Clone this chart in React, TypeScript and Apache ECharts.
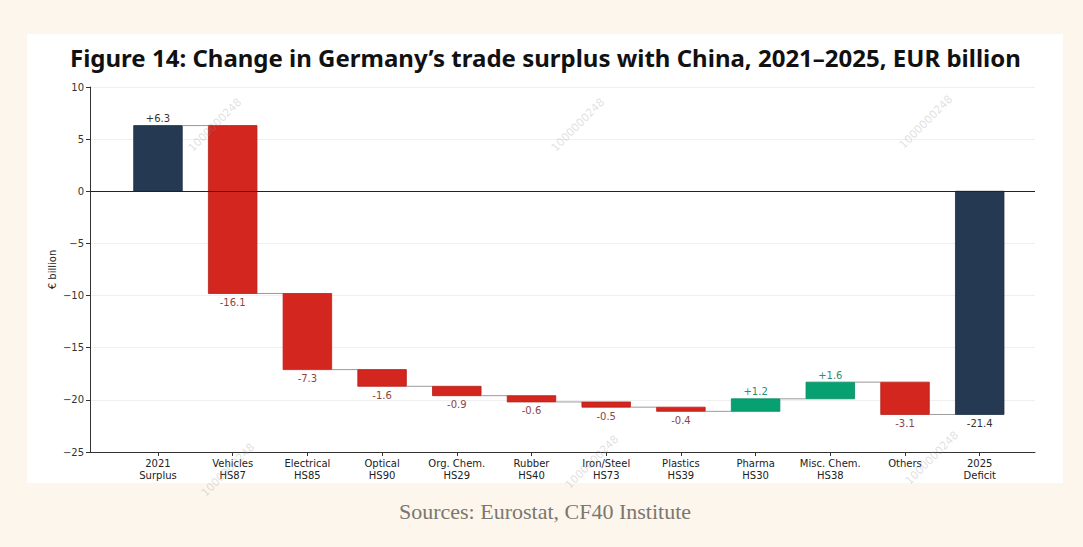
import React, { useEffect, useRef } from "react";
import * as echarts from "echarts";

const categories = [
  "2021\nSurplus",
  "Vehicles\nHS87",
  "Electrical\nHS85",
  "Optical\nHS90",
  "Org. Chem.\nHS29",
  "Rubber\nHS40",
  "Iron/Steel\nHS73",
  "Plastics\nHS39",
  "Pharma\nHS30",
  "Misc. Chem.\nHS38",
  "Others",
  "2025\nDeficit",
];
const changes = [6.3, -16.1, -7.3, -1.6, -0.9, -0.6, -0.5, -0.4, 1.2, 1.6, -3.1, -21.4];
const isTotal = [1, 0, 0, 0, 0, 0, 0, 0, 0, 0, 0, 1];
const yTicks = [-25, -20, -15, -10, -5, 0, 5, 10];

const TITLE = "Figure 14: Change in Germany\u2019s trade surplus with China, 2021\u20132025, EUR billion";
const SOURCE = "Sources: Eurostat, CF40 Institute";
const WATERMARK = "1000000248";

const NAVY = "#253a52";
const RED = "#d2261e";
const GREEN = "#07a071";

function buildRows() {
  const rows: number[][] = [];
  let cum = 0;
  changes.forEach((v, i) => {
    if (isTotal[i]) {
      rows.push([i, 0, v, 1, v]);
      cum = v;
    } else {
      rows.push([i, cum, cum + v, 0, v]);
      cum = cum + v;
    }
  });
  return rows;
}

const HALF = 0.325;

export default function App() {
  const ref = useRef<HTMLDivElement>(null);
  useEffect(() => {
    document.body.style.margin = "0";
    const chart = echarts.init(ref.current as HTMLDivElement, null, { renderer: "svg" });
    const rows = buildRows();
    const n = rows.length;
    const wm = [
      [215, 125],
      [578, 125],
      [926, 122],
      [228, 470],
      [592, 462],
      [932, 458],
    ];
    const option: any = {
      animation: false,
      backgroundColor: "#fdf6ec",
      title: {
        text: TITLE,
        left: 65,
        top: 40,
        textStyle: {
          fontFamily: "Noto Sans",
          fontWeight: "bold",
          fontSize: 24,
          color: "#111",
        },
      },
      graphic: [
        {
          type: "rect",
          z: -10,
          shape: { x: 27, y: 34, width: 1036, height: 449 },
          style: { fill: "#ffffff" },
          silent: true,
        },
        {
          type: "text",
          x: 545,
          y: 511,
          style: {
            text: SOURCE,
            fontFamily: "Liberation Serif",
            fontSize: 22,
            fill: "#7b7770",
            textAlign: "center",
            textVerticalAlign: "middle",
          },
          silent: true,
        },
        ...wm.map(([x, y]) => ({
          type: "text",
          x,
          y,
          rotation: Math.PI / 4,
          z: 100,
          style: {
            text: WATERMARK,
            fontFamily: "DejaVu Sans",
            fontSize: 11,
            fill: "rgba(150,150,150,0.3)",
            textAlign: "center",
            textVerticalAlign: "middle",
          },
          silent: true,
        })),
      ],
      grid: { left: 90, right: 48, top: 87, bottom: 95, containLabel: false },
      xAxis: {
        type: "value",
        min: -0.91,
        max: 11.74,
        splitLine: { show: false },
        axisLine: { onZero: false, lineStyle: { color: "#333", width: 1 } },
        axisTick: {
          customValues: categories.map((_, i) => i),
          length: 4,
          lineStyle: { color: "#333" },
        },
        axisLabel: {
          customValues: categories.map((_, i) => i),
          formatter: (v: number) => categories[Math.round(v)] ?? "",
          fontFamily: "DejaVu Sans",
          fontSize: 10,
          lineHeight: 12,
          color: "#222",
          margin: 5,
        },
      },
      yAxis: {
        type: "value",
        min: -25,
        max: 10,
        interval: 5,
        name: "\u20ac billion",
        nameLocation: "middle",
        nameGap: 33,
        nameMoveOverlap: false,
        nameTextStyle: { fontFamily: "DejaVu Sans", fontSize: 10, color: "#222" },
        axisLine: { show: true, onZero: false, lineStyle: { color: "#333", width: 1 } },
        axisTick: { show: true, length: 4, lineStyle: { color: "#333" } },
        axisLabel: {
          fontFamily: "DejaVu Sans",
          fontSize: 10,
          color: "#333",
          margin: 6,
          formatter: (v: number) => (yTicks.includes(v) ? String(v).replace("-", "\u2212") : ""),
        },
        splitLine: { show: true, lineStyle: { color: "#f0f0f0", width: 1 } },
      },
      series: [
        {
          type: "custom",
          data: rows,
          encode: { x: 0, y: [1, 2] },
          clip: false,
          renderItem: (params: any, api: any) => {
            const i = api.value(0);
            const base = api.value(1);
            const end = api.value(2);
            const total = api.value(3);
            const v = api.value(4);
            const hi = Math.max(base, end);
            const lo = Math.min(base, end);
            const p1 = api.coord([i - HALF, hi]);
            const p2 = api.coord([i + HALF, lo]);
            const color = total ? NAVY : v < 0 ? RED : GREEN;
            const edge = total ? "#1d2f44" : v < 0 ? "#b8201a" : "#058a61";
            const labelColor = total ? "#333333" : v < 0 ? "#8e4444" : "#2f8d6c";
            const labelText = (v > 0 ? "+" : "") + v.toFixed(1);
            const cx = (p1[0] + p2[0]) / 2;
            const children: any[] = [
              {
                type: "rect",
                shape: { x: p1[0], y: p1[1], width: p2[0] - p1[0], height: p2[1] - p1[1] },
                style: { fill: color, stroke: edge, lineWidth: 0.8 },
              },
              {
                type: "text",
                x: cx,
                y: v > 0 ? p1[1] - 7 : p2[1] + 9,
                style: {
                  text: labelText,
                  fontFamily: "DejaVu Sans",
                  fontSize: 10,
                  fill: labelColor,
                  textAlign: "center",
                  textVerticalAlign: "middle",
                },
              },
            ];
            if (i < n - 1) {
              const a = api.coord([i + HALF, end]);
              const b = api.coord([i + 1 - HALF, end]);
              children.push({
                type: "line",
                shape: { x1: a[0], y1: a[1], x2: b[0], y2: b[1] },
                style: { stroke: "#9a9a9a", lineWidth: 1 },
              });
            }
            return { type: "group", children };
          },
          markLine: {
            silent: true,
            symbol: "none",
            label: { show: false },
            lineStyle: { color: "#222", width: 1, type: "solid" },
            data: [{ yAxis: 0 }],
          },
        },
      ],
    };
    chart.setOption(option);
    return () => chart.dispose();
  }, []);
  return <div ref={ref} style={{ width: 1083, height: 547 }} />;
}
